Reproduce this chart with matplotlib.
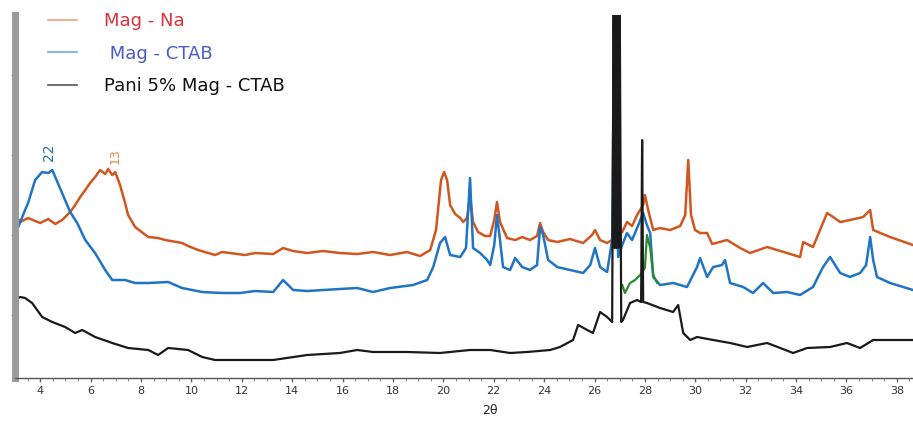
import matplotlib
matplotlib.use("Agg")
import matplotlib.pyplot as plt
from matplotlib.ticker import MultipleLocator

# XRD patterns (2theta in degrees, intensity in arbitrary units)
na_x = [3.0, 3.21, 3.52, 4.0, 4.32, 4.6, 4.87, 5.19, 5.39, 5.59, 5.79, 5.98, 6.18, 6.38, 6.58,
        6.7, 6.86, 6.98, 7.17, 7.37, 7.49, 7.77, 8.29, 8.68, 8.96, 9.63, 9.87, 10.27, 10.94,
        11.22, 12.13, 12.53, 13.25, 13.64, 14.04, 14.6, 15.23, 15.9, 16.58, 17.21, 17.89,
        18.56, 19.08, 19.48, 19.71, 19.91, 20.03, 20.15, 20.27, 20.47, 20.67, 20.79, 20.94,
        21.06, 21.18, 21.38, 21.66, 21.86, 22.02, 22.13, 22.25, 22.53, 22.85, 23.13, 23.44,
        23.72, 23.84, 23.96, 24.16, 24.52, 25.03, 25.55, 25.9, 26.02, 26.22, 26.5, 26.7,
        27.1, 27.29, 27.49, 27.69, 27.93, 28.0, 28.13, 28.33, 28.6, 29.0, 29.4, 29.6, 29.72,
        29.83, 29.99, 30.19, 30.47, 30.67, 31.26, 31.78, 32.17, 32.85, 33.64, 34.16, 34.28,
        34.67, 35.23, 35.47, 35.75, 36.14, 36.66, 36.94, 37.06, 37.73, 38.64]
na_y = [163, 156, 160, 155, 159, 154, 158, 166, 173, 181, 188, 195, 201, 208, 204,
        209, 203, 206, 193, 175, 163, 151, 141, 140, 138, 135, 132, 128, 123,
        126, 123, 125, 124, 130, 127, 125, 127, 125, 124, 126, 123,
        126, 122, 128, 148, 198, 206, 198, 173, 164, 160, 156, 160,
        181, 156, 146, 142, 142, 158, 176, 156, 140, 138, 141, 138,
        142, 155, 146, 138, 136, 139, 135, 143, 148, 138, 135, 138,
        146, 156, 152, 163, 173, 183, 168, 148, 150, 148, 152, 163, 218,
        163, 148, 145, 145, 134, 138, 130, 125, 131, 125, 121, 136,
        131, 165, 161, 156, 158, 161, 168, 148, 141, 133]

ctab_x = [3.0, 3.13, 3.4, 3.52, 3.8, 4.08, 4.32, 4.48, 4.6, 4.87, 5.19, 5.47, 5.79, 6.18,
          6.58, 6.86, 7.37, 7.77, 8.29, 9.08, 9.63, 10.43, 11.22, 11.94, 12.53, 13.25, 13.64,
          14.04, 14.6, 15.23, 15.9, 16.58, 17.21, 17.89, 18.8, 19.36, 19.6, 19.87, 20.07,
          20.27, 20.67, 20.9, 21.06, 21.18, 21.46, 21.74, 21.86, 22.02, 22.13, 22.25, 22.37,
          22.65, 22.85, 23.13, 23.44, 23.72, 23.84, 23.96, 24.16, 24.52, 25.03, 25.55, 25.83,
          26.02, 26.22, 26.5, 26.7, 26.74, 26.82, 26.94, 27.1, 27.29, 27.49, 27.69, 27.93,
          28.08, 28.21, 28.33, 28.6, 29.12, 29.67, 30.07, 30.19, 30.47, 30.71, 31.06, 31.18,
          31.38, 31.9, 32.29, 32.69, 33.09, 33.64, 34.16, 34.67, 35.07, 35.35, 35.75, 36.14,
          36.54, 36.78, 36.94, 37.06, 37.21, 37.73, 38.64]
ctab_y = [148, 151, 168, 175, 198, 206, 205, 208, 201, 185, 166, 155, 138, 125,
          108, 98, 98, 95, 95, 96, 90, 86, 85, 85, 87, 86, 98,
          88, 87, 88, 89, 90, 86, 90, 93, 98, 111, 135, 141,
          123, 121, 130, 200, 130, 125, 118, 113, 133, 163, 138, 111,
          108, 120, 111, 108, 113, 151, 143, 118, 111, 108, 105, 113,
          130, 111, 106, 138, 245, 228, 121, 133, 145, 138, 150, 165,
          153, 145, 101, 93, 95, 91, 111, 120, 101, 111, 113, 118,
          95, 91, 85, 95, 85, 86, 83, 91, 111, 121, 105, 101,
          105, 113, 141, 118, 101, 95, 88]

pani_x = [3.0, 3.21, 3.4, 3.68, 4.08, 4.48, 4.99, 5.39, 5.67, 6.18, 6.86, 7.49, 8.29, 8.68,
          9.08, 9.87, 10.43, 10.94, 12.13, 13.25, 14.6, 15.9, 16.58, 17.21, 18.56, 19.87,
          21.06, 21.86, 22.65, 23.33, 24.24, 24.63, 25.15, 25.35, 25.71, 25.94, 26.22, 26.5,
          26.7, 26.76, 26.8, 26.84, 26.88, 26.92, 26.96, 27.0, 27.06, 27.13, 27.41, 27.69,
          27.85, 27.89, 27.93, 28.08, 28.6,
          29.12, 29.32, 29.52, 29.8, 30.07, 30.71, 31.38, 32.06, 32.85, 33.37, 33.88, 34.44,
          35.35, 36.02, 36.54, 37.06, 37.85, 38.64]
pani_y = [78, 81, 80, 75, 61, 56, 51, 45, 48, 41, 35, 30, 28, 23,
          30, 28, 21, 18, 18, 18, 23, 25, 28, 26, 26, 25,
          28, 28, 25, 26, 28, 31, 38, 53, 48, 45, 66, 61,
          56, 380, 130, 380, 130, 380, 130, 380, 56, 58, 75, 78,
          76, 238, 76, 75, 70,
          66, 73, 45, 38, 41, 38, 35, 31, 35, 30, 25, 30,
          31, 35, 30, 38, 38, 38]

green_x = [27.1, 27.21, 27.41, 27.61, 27.81, 28.0, 28.08, 28.21, 28.33, 28.49]
green_y = [93, 85, 95, 98, 103, 110, 143, 130, 103, 95]

labels = ["Mag - Na", " Mag - CTAB", "Pani 5% Mag - CTAB"]
label_colors = ["#d8343a", "#4a5cc0", "#111111"]

fig = plt.figure(figsize=(9.13, 4.22), dpi=100)
ax = fig.add_axes([0.0164, 0.1043, 0.9836, 0.860])

l1, = ax.plot(na_x, na_y, color="#d2561f", lw=1.8)
l2, = ax.plot(ctab_x, ctab_y, color="#1f74c4", lw=1.8)
ax.plot(green_x, green_y, color="#2f8a2f", lw=1.6)
l3, = ax.plot(pani_x, pani_y, color="#1a1a1a", lw=1.6)

# d-spacing labels on the low-angle peaks
ax.text(4.35, 217, "22", color="#2a6f9a", fontsize=10, rotation=90, ha="center", va="bottom")
ax.text(6.98, 214, "13", color="#e8884a", fontsize=9, rotation=90, ha="center", va="bottom")

leg = ax.legend([l1, l2, l3], labels, loc="upper left", bbox_to_anchor=(0.029, 1.028),
                frameon=False, fontsize=13, handlelength=1.6, handletextpad=1.5,
                labelspacing=0.8, borderaxespad=0.0)
for t, c in zip(leg.get_texts(), label_colors):
    t.set_color(c)
leg.get_lines()[0].set_color("#f0a080")
leg.get_lines()[1].set_color("#6fa8dc")
leg.get_lines()[2].set_color("#555555")
for ln in leg.get_lines():
    ln.set_linewidth(1.2)

ax.set_xlim(3.0, 38.64)
ax.set_ylim(0, 363)
ax.xaxis.set_minor_locator(MultipleLocator(0.5))
ax.set_xticks(range(4, 39, 2))
ax.tick_params(axis="x", which="major", length=3, width=1, colors="#666666",
               labelcolor="#333333", labelsize=8, pad=3)
ax.tick_params(axis="x", which="minor", length=2, width=0.8, colors="#888888")
ax.set_yticks([63, 143, 223, 303])
ax.set_yticklabels([])
ax.tick_params(axis="y", length=3, width=0.8, colors="#999999")

for s in ["top", "right"]:
    ax.spines[s].set_visible(False)
ax.spines["left"].set_color("#9a9a9a")
ax.spines["left"].set_linewidth(5)
ax.spines["bottom"].set_color("#555555")
ax.spines["bottom"].set_linewidth(1)

fig.text(490 / 913, 1 - 410 / 422, "2θ", ha="center", va="center", fontsize=9, color="#222222")

fig.savefig("out.png", dpi=100)
